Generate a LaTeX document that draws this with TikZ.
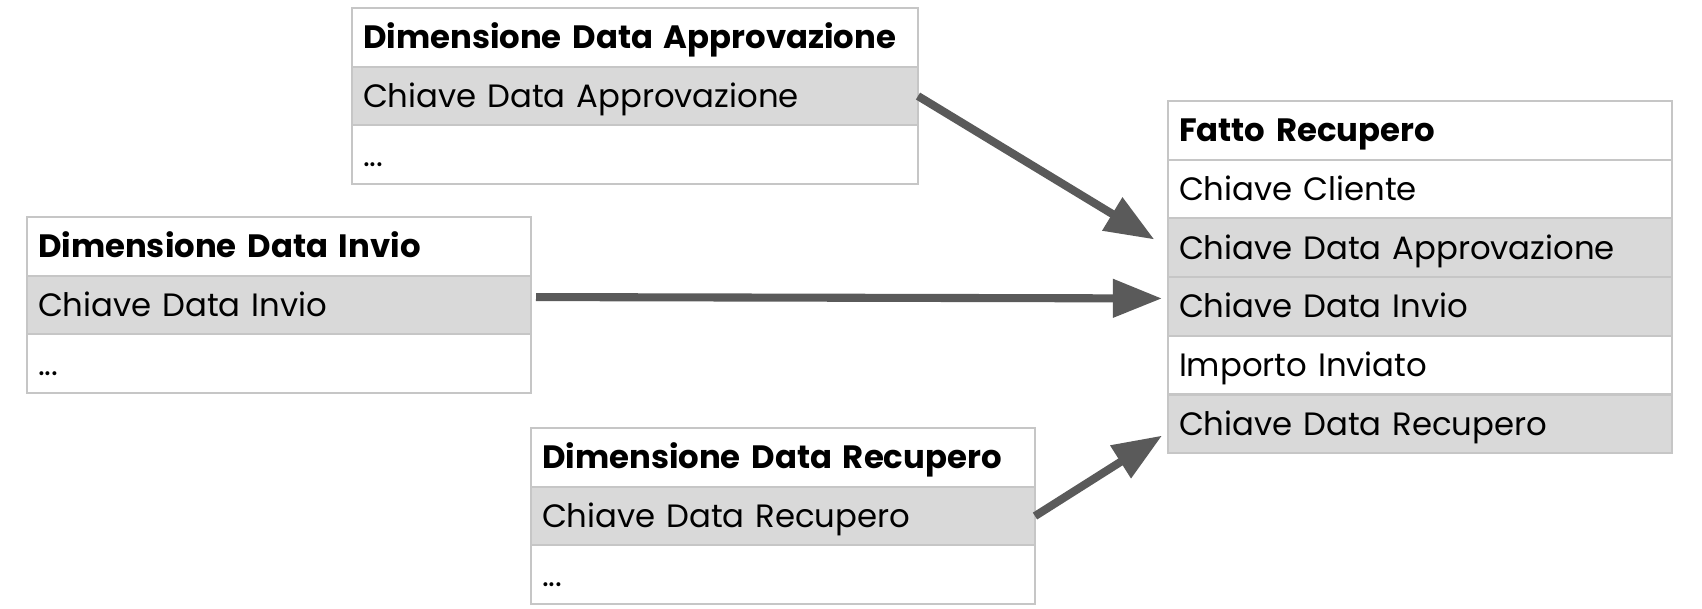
\documentclass[tikz,border=0pt]{standalone}
\usepackage{fontspec}
\setmainfont{Poppins}[UprightFont={* Regular}, BoldFont={* Bold}]
\usetikzlibrary{arrows.meta, positioning}
\definecolor{rulegray}{HTML}{C6C6C6}
\definecolor{keygray}{HTML}{D9D9D9}
\definecolor{arrowgray}{HTML}{5A5A5A}

\begin{document}
\begin{tikzpicture}[
    every node/.style={font=\fontsize{9.2}{11}\selectfont},
    tbl/.style={rectangle, draw=rulegray, line width=0.6pt, outer sep=0pt,
                minimum height=0.587cm, inner xsep=0.11cm, inner ysep=0pt,
                text height=6.4pt, text depth=0pt, align=left, fill=white},
    head/.style={tbl, font=\fontsize{9.2}{11}\selectfont\bfseries},
    keyrow/.style={tbl, fill=keygray},
    plainrow/.style={tbl},
    wide/.style={text width=5.44cm},
    narrow/.style={text width=4.82cm},
    fk/.style={-{Triangle[length=14pt, width=10.5pt]}, line width=2.3pt,
               color=arrowgray},
]
\useasboundingbox (0,0) rectangle (17.02,6.08);

% ================================================== dimension: approvazione
\node[head, wide, anchor=north west] (aHead) at (3.52, 6.00)
     {Dimensione Data Approvazione};
\node[keyrow, wide, below=0pt of aHead] (aKey) {Chiave Data Approvazione};
\node[plainrow, wide, below=0pt of aKey] (aMore) {...};

% ================================================== dimension: invio
\node[head, narrow, anchor=north west] (iHead) at (0.27, 3.91)
     {Dimensione Data Invio};
\node[keyrow, narrow, below=0pt of iHead] (iKey) {Chiave Data Invio};
\node[plainrow, narrow, below=0pt of iKey] (iMore) {...};

% ================================================== dimension: recupero
\node[head, narrow, anchor=north west] (rHead) at (5.31, 1.80)
     {Dimensione Data Recupero};
\node[keyrow, narrow, below=0pt of rHead] (rKey) {Chiave Data Recupero};
\node[plainrow, narrow, below=0pt of rKey] (rMore) {...};

% ================================================== the fact table
\node[head, narrow, anchor=north west] (fHead) at (11.68, 5.07)
     {Fatto Recupero};
\node[plainrow, narrow, below=0pt of fHead] (fCliente) {Chiave Cliente};
\node[keyrow, narrow, below=0pt of fCliente] (fApp) {Chiave Data Approvazione};
\node[keyrow, narrow, below=0pt of fApp] (fInvio) {Chiave Data Invio};
\node[plainrow, narrow, below=0pt of fInvio] (fImporto) {Importo Inviato};
\node[keyrow, narrow, below=0pt of fImporto] (fRec) {Chiave Data Recupero};

% the foreign keys
\draw[fk, shorten >=0.16cm] (aKey.east) -- (fApp.west);
\draw[fk, shorten <=0.05cm, shorten >=0.06cm]
     ([yshift=0.08cm]iKey.east) -- ([yshift=0.08cm]fInvio.west);
\draw[fk, shorten >=0.07cm] (rKey.east) -- ([yshift=-0.08cm]fRec.west);

\end{tikzpicture}
\end{document}
